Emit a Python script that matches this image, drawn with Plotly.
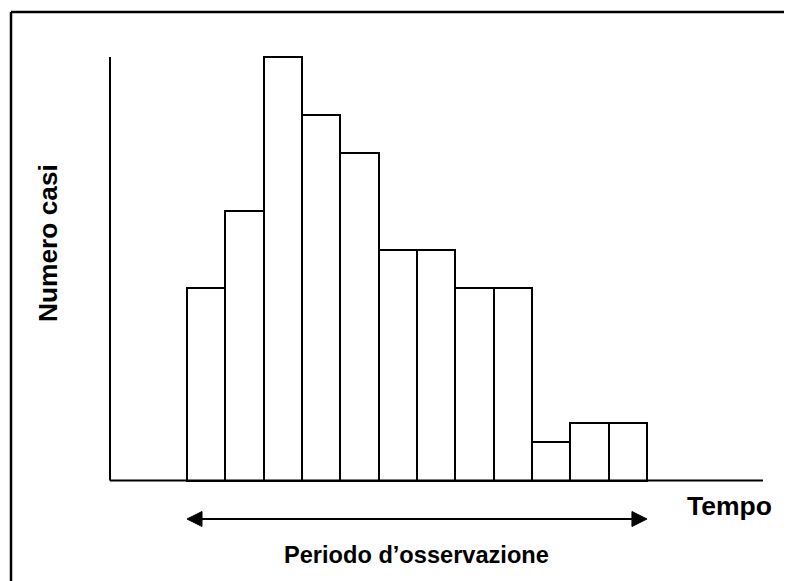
import plotly.graph_objects as go

# Data
periods = list(range(1, 13))
cases = [10, 14, 22, 19, 17, 12, 12, 10, 10, 2, 3, 3]
y_label = "Numero casi"
x_label = "Tempo"
period_label = "Periodo d\u2019osservazione"

W, H = 792, 581
OFF = 8.0  # page offset of the figure inside the browser window

def px_x(p):
    return p - OFF

def px_y(p):
    return p - OFF

# pixel geometry of the plot (scale: data -> pixels)
px_per_x = 38.33
x0_px = px_x(187.0)          # left edge of first bar
px_per_y = 19.25
base_px = px_y(480.5)        # baseline from top

xr = [0.5 - x0_px / px_per_x, 0.5 + (W - x0_px) / px_per_x]
yb = H - base_px
yr = [-yb / px_per_y, (H - yb) / px_per_y]

def dx(px):
    return px / px_per_x

def dy(px):
    return px / px_per_y

fig = go.Figure()
fig.add_trace(go.Bar(
    x=periods, y=cases, width=1,
    marker=dict(color="white", line=dict(color="black", width=2)),
    hoverinfo="x+y",
))

x_left_axis = 0.5 + (px_x(110) - x0_px) / px_per_x
x_right_axis = 0.5 + (px_x(763) - x0_px) / px_per_x
shapes = []
# y axis line
shapes.append(dict(type="line", xref="x", yref="y", x0=x_left_axis, x1=x_left_axis,
                   y0=0, y1=max(cases), line=dict(color="black", width=2)))
# x axis line
shapes.append(dict(type="line", xref="x", yref="y", x0=x_left_axis, x1=x_right_axis,
                   y0=0, y1=0, line=dict(color="black", width=2)))
# arrow
ay = -2
a_start, a_end = periods[0] - 0.5, periods[-1] + 0.5
hl, hh = dx(15), dy(7.5)
shapes.append(dict(type="line", xref="x", yref="y", x0=a_start + hl * 0.5, x1=a_end - hl * 0.5,
                   y0=ay, y1=ay, line=dict(color="black", width=2)))
shapes.append(dict(type="path", xref="x", yref="y",
                   path=f"M {a_start} {ay} L {a_start + hl} {ay + hh} L {a_start + hl} {ay - hh} Z",
                   fillcolor="black", line=dict(color="black", width=1)))
shapes.append(dict(type="path", xref="x", yref="y",
                   path=f"M {a_end} {ay} L {a_end - hl} {ay + hh} L {a_end - hl} {ay - hh} Z",
                   fillcolor="black", line=dict(color="black", width=1)))
# outer frame (left and top edges only fall inside the view)
fx0 = px_x(11) / W
fy1 = 1 - px_y(12) / H
shapes.append(dict(type="line", xref="paper", yref="paper", x0=fx0, x1=fx0, y0=-0.2, y1=fy1,
                   line=dict(color="black", width=2.5)))
shapes.append(dict(type="line", xref="paper", yref="paper", x0=fx0, x1=1.2, y0=fy1, y1=fy1,
                   line=dict(color="black", width=2.5)))

font = dict(family="Liberation Sans, Arial, sans-serif", color="black")
annotations = [
    dict(text=f"<b>{x_label}</b>", xref="paper", yref="paper", x=px_x(729) / W, y=1 - px_y(506) / H,
         showarrow=False, xanchor="center", yanchor="middle", font=dict(size=26.5, **font)),
    dict(text=f"<b>{period_label}</b>", xref="paper", yref="paper", x=px_x(416.5) / W,
         y=1 - px_y(555) / H,
         showarrow=False, xanchor="center", yanchor="middle", font=dict(size=23.6, **font)),
    dict(text=f"<b>{y_label}</b>", xref="paper", yref="paper", x=px_x(48) / W, y=1 - px_y(243) / H,
         showarrow=False, xanchor="center", yanchor="middle", textangle=-90,
         font=dict(size=26.3, **font)),
]

fig.update_layout(
    width=W, height=H,
    margin=dict(l=0, r=0, t=0, b=0),
    paper_bgcolor="white", plot_bgcolor="white",
    showlegend=False,
    xaxis=dict(range=xr, visible=False, fixedrange=True),
    yaxis=dict(range=yr, visible=False, fixedrange=True),
    shapes=shapes,
    annotations=annotations,
    bargap=0,
)

fig.write_html("out.html")
